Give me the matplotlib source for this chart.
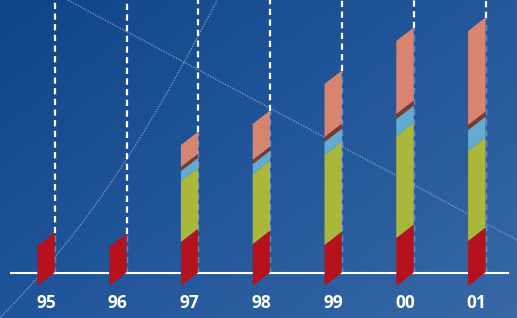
import numpy as np
import matplotlib
matplotlib.use("Agg")
import matplotlib.pyplot as plt
from matplotlib.colors import LinearSegmentedColormap

# ---- data ----
years = ["95", "96", "97", "98", "99", "00", "01"]
red    = [40, 39, 44, 42, 41, 48, 45]
green  = [0, 0, 61, 70, 90, 102, 90]
blue   = [0, 0, 10, 10, 13, 17, 21]
brown  = [0, 0, 4, 4, 5, 5, 5]
salmon = [0, 0, 22, 36, 53, 73, 94]

series = [red, green, blue, brown, salmon]
colors = ["#b5121e", "#a9b83b", "#64aad2", "#7a3a30", "#d9846f"]

# ---- figure ----
W, H = 517, 318
fig = plt.figure(figsize=(W / 100, H / 100), dpi=100)
ax = fig.add_axes([0, 0, 1, 1])
spacing = 71.8
x0 = 46.0
base_px = 272.5
ax.set_xlim(-x0 / spacing, (W - x0) / spacing)
ax.set_ylim(-(H - base_px), base_px)
ax.axis("off")

# background gradient (diagonal, dark top-left -> lighter bottom-right)
gx, gy = np.meshgrid(np.linspace(0, 1, 300), np.linspace(0, 1, 200))
grad = (gx * 0.55 + gy * 0.45)
cmap = LinearSegmentedColormap.from_list("bg", ["#0f4588", "#22569a", "#3868a5"])
xl, yl = ax.get_xlim(), ax.get_ylim()
ax.imshow(grad, extent=[xl[0], xl[1], yl[0], yl[1]], cmap=cmap, aspect="auto",
          origin="upper", zorder=0)
ax.set_xlim(xl)
ax.set_ylim(yl)

# decorative lines (figure pixel coords)
def px2data(px, py):
    return ax.transData.inverted().transform(fig.transFigure.transform((px / W, 1 - py / H)))

line_pts = [(60, -4), (530, 247)]
p = np.array([px2data(*q) for q in line_pts])
ax.plot(p[:, 0], p[:, 1], color="#8fa8d0", lw=1.0, ls=(0, (1, 1)), alpha=0.8, zorder=1)

curve_py = np.array([0, 39, 62, 122, 220, 280, 317])
curve_px = np.array([217, 197, 184, 150, 83, 37, 0])
coef = np.polyfit(curve_py, curve_px, 3)
yy = np.linspace(-5, 325, 200)
xx = np.polyval(coef, yy)
c = np.array([px2data(a, b) for a, b in zip(xx, yy)])
ax.plot(c[:, 0], c[:, 1], color="#8fa8d0", lw=1.0, ls=(0, (1, 1)), alpha=0.8, zorder=1)

# baseline
ax.plot([px2data(11, 0)[0], px2data(508, 0)[0]], [0, 0], color="white", lw=1.5, zorder=2)

# bars as slanted parallelograms
bw = 17.4 / spacing
slant = 13.5
for i, yr in enumerate(years):
    xr = i + bw / 2
    xlft = i - bw / 2
    bottom = 0
    for vals, col in zip(series, colors):
        v = vals[i]
        if v <= 0:
            continue
        top = bottom + v
        ax.fill([xlft, xr, xr, xlft],
                [bottom - slant, bottom, top, top - slant],
                color=col, lw=0, zorder=3)
        bottom = top
    # dashed guide from top of figure to bar top
    ax.plot([xr, xr], [bottom, base_px], color="white", lw=1.6,
            ls=(0, (2.8, 2.0)), zorder=4)
    ax.plot([xr, xr], [0, bottom], color="white", lw=1.0,
            ls=(0, (4.4, 3.2)), alpha=0.3, zorder=4)
    ax.text(i, -30, yr, color="white", fontsize=12.5, fontweight="bold",
            family=["Open Sans", "DejaVu Sans"], ha="center", va="center", zorder=5)

fig.savefig("out.png", dpi=100)
